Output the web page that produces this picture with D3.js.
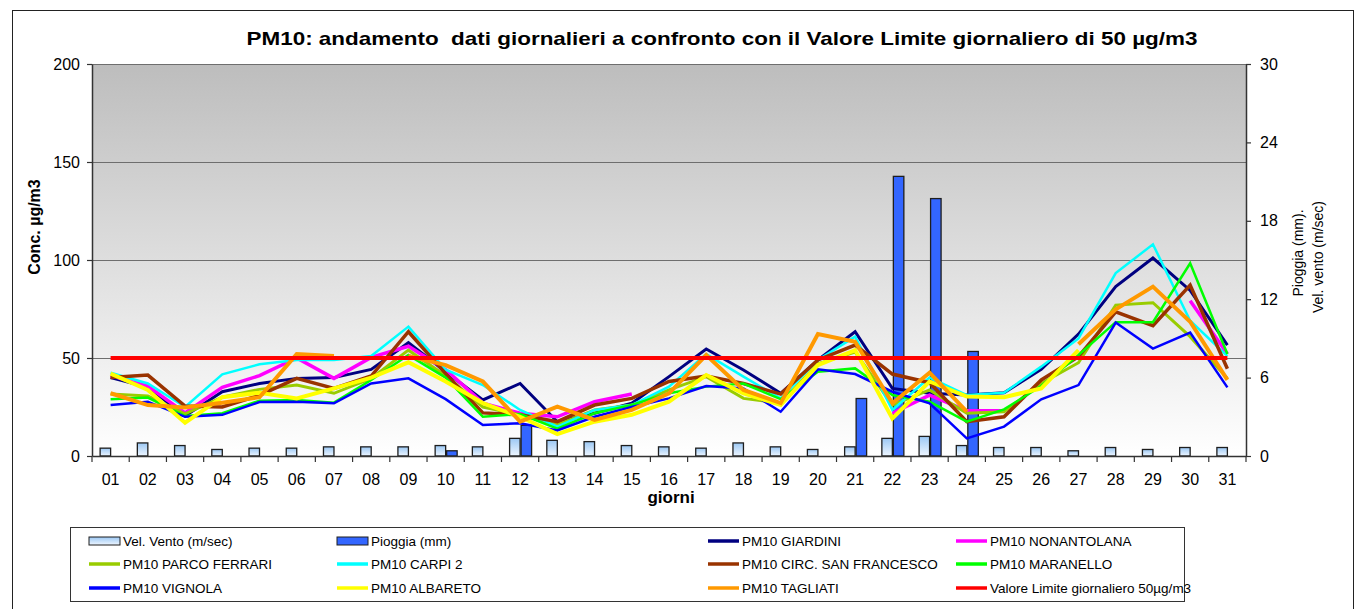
<!DOCTYPE html>
<html>
<head>
<meta charset="utf-8">
<script src="https://cdn.jsdelivr.net/npm/d3@7"></script>
<style>
  body { margin: 0; background: #fff; }
  svg { display: block; font-family: "Liberation Sans", Arial, sans-serif; }
</style>
</head>
<body>
<div id="chart"></div>
<script>
// giorni del mese
const days = ["01","02","03","04","05","06","07","08","09","10","11","12","13","14","15","16",
              "17","18","19","20","21","22","23","24","25","26","27","28","29","30","31"];

// asse destro: vento (m/sec) e pioggia (mm)
const velVento = [0.6,1.0,0.8,0.5,0.6,0.6,0.7,0.7,0.7,0.8,0.7,1.35,1.2,1.1,0.8,0.7,
                  0.6,1.0,0.7,0.5,0.7,1.35,1.5,0.8,0.65,0.65,0.4,0.65,0.5,0.65,0.65];
const pioggia  = [0,0,0,0,0,0,0,0,0,0.4,0,2.35,0,0,0,0,
                  0,0,0,0,4.4,21.4,19.7,8.0,0,0,0,0,0,0,0];

// asse sinistro: PM10 (µg/m3), null = dato mancante
const giardini     = [40,35,20.4,32.8,37,39.6,40,44.2,57.8,43,28.6,37,17.5,21.8,26.9,40.5,
                      54.6,43.9,32,49,63.4,34.5,32,31.1,32.3,44.2,62.2,86.4,101,84.5,56.6];
const nonantolana  = [41,35.7,22,35,41,50,39.6,50.3,56,44,27,21.8,20,27.7,31.6,null,
                      null,null,null,null,null,21.8,31,23.1,23.1,null,null,null,null,79.2,52];
const parcoFerrari = [31.6,30.6,21.5,30,34,36.2,32,39.6,54,41,25,21,16,23.5,26,33.7,
                      40.5,29.4,27,47,53,26,33.7,21.8,22.6,37,47.6,77,78.2,60.9,39.6];
const carpi2       = [42.5,37,25,41.7,46.8,49,49,51,66,44,36.2,23.5,15,23.5,26,35.4,
                      52,40.5,29.4,49,60.9,23.5,40,31.1,32.3,45.6,60,93.3,108,69,51];
const sanFrancesco = [40,41.3,25.5,25,31,39.6,34.5,40.8,63.4,42,22,21,17.5,26,29.4,38,
                      40.8,37,31.6,49,56.6,41.8,37.4,17.5,20,38.8,50.7,73.5,66.5,87.2,44.5];
const maranello    = [29,29.8,20.4,21.8,28.2,28.6,27.2,38.8,51.5,40,20,21.4,14,21.8,26,32,
                      35.4,37,29,43,44.7,31.1,27.7,17.5,23.8,35.7,51.5,68.3,68.3,98.3,52];
const vignola      = [26,27.7,20,21,27.5,27.7,26.9,37,39.6,29,15.8,16.7,13,20,25,29.4,
                      35.7,34.5,22.6,44.2,41.8,32.8,26.9,9,15,28.9,36.2,68.1,54.8,63,35];
const albareto     = [42,33.7,17,30,32.3,29.4,34.5,40,47.8,38,27,20,11.2,17.5,21,27.7,
                      41.3,32,26,46.4,54,19.2,38,30.3,30,34.5,54,null,null,null,null];
const tagliati     = [32,26,24.8,27.2,30,52,51,null,51,46.4,38,17.5,25.2,18.4,23.5,32,
                      51.5,33.7,27,62.2,58.3,26.9,42.5,22.6,null,null,57,74.8,86.4,68.5,38.8];
const valoreLimite = 50;

const leftTicks  = [0, 50, 100, 150, 200];
const rightTicks = [0, 6, 12, 18, 24, 30];

const series = [
  {name: "PM10 GIARDINI",              values: giardini,     color: "#000080", w: 3},
  {name: "PM10 NONANTOLANA",           values: nonantolana,  color: "#ff00ff", w: 3.5},
  {name: "PM10 PARCO FERRARI",         values: parcoFerrari, color: "#99cc00", w: 3},
  {name: "PM10 CARPI 2",               values: carpi2,       color: "#00ffff", w: 2.5},
  {name: "PM10 CIRC. SAN FRANCESCO",   values: sanFrancesco, color: "#993300", w: 3.5},
  {name: "PM10 MARANELLO",             values: maranello,    color: "#00ff00", w: 2.5},
  {name: "PM10 VIGNOLA",               values: vignola,      color: "#0000ff", w: 2.5},
  {name: "PM10 ALBARETO",              values: albareto,     color: "#ffff00", w: 4},
  {name: "PM10 TAGLIATI",              values: tagliati,     color: "#ff9900", w: 4}
];

const W = 1358, H = 609;
const plot = {left: 92, right: 1246, top: 64, bottom: 456};

const svg = d3.select("#chart").append("svg")
  .attr("width", W).attr("height", H);

const defs = svg.append("defs");
let bg = defs.append("linearGradient").attr("id", "bg")
  .attr("x1", 0).attr("y1", 0).attr("x2", 0).attr("y2", 1);
bg.append("stop").attr("offset", "0%").attr("stop-color", "#bdbdbd");
bg.append("stop").attr("offset", "100%").attr("stop-color", "#ffffff");

let wg = defs.append("linearGradient").attr("id", "wind")
  .attr("x1", 0).attr("y1", 0).attr("x2", 0).attr("y2", 1);
wg.append("stop").attr("offset", "0%").attr("stop-color", "#9cc8f4");
wg.append("stop").attr("offset", "100%").attr("stop-color", "#eef6ff");

// cornice esterna
svg.append("rect")
  .attr("x", 12.5).attr("y", 10.5).attr("width", 1341).attr("height", 610)
  .attr("fill", "#fff").attr("stroke", "#222").attr("stroke-width", 1);

// scale
const x = d3.scaleBand().domain(days).range([plot.left, plot.right]).padding(0);
const bw = x.bandwidth();
const yL = d3.scaleLinear().domain([0, 200]).range([plot.bottom, plot.top]);
const yR = d3.scaleLinear().domain([0, 30]).range([plot.bottom, plot.top]);

// sfondo area grafico
svg.append("rect")
  .attr("x", plot.left).attr("y", plot.top)
  .attr("width", plot.right - plot.left).attr("height", plot.bottom - plot.top)
  .attr("fill", "url(#bg)");

// griglia
svg.append("g").selectAll("line")
  .data(leftTicks.filter(d => d > 0))
  .join("line")
  .attr("x1", plot.left).attr("x2", plot.right)
  .attr("y1", d => Math.round(yL(d)) + 0.5).attr("y2", d => Math.round(yL(d)) + 0.5)
  .attr("stroke", "#6e6e6e").attr("stroke-width", 1);

// barre vento
svg.append("g").selectAll("rect")
  .data(velVento)
  .join("rect")
  .attr("x", (d, i) => x(days[i]) + bw / 2 - 10.5)
  .attr("y", d => yR(d))
  .attr("width", 10.5)
  .attr("height", d => plot.bottom - yR(d))
  .attr("fill", "url(#wind)")
  .attr("stroke", "#1e1e1e").attr("stroke-width", 1.3);

// barre pioggia
svg.append("g").selectAll("rect")
  .data(pioggia.map((v, i) => ({v, i})).filter(d => d.v > 0))
  .join("rect")
  .attr("x", d => x(days[d.i]) + bw / 2 + 1)
  .attr("y", d => yR(d.v))
  .attr("width", 10.5)
  .attr("height", d => plot.bottom - yR(d.v))
  .attr("fill", "#3366ff")
  .attr("stroke", "#1e1e1e").attr("stroke-width", 1.3);

// linee PM10
const line = d3.line()
  .defined(v => v != null)
  .x((v, i) => x(days[i]) + bw / 2)
  .y(v => yL(v));

svg.append("g").selectAll("path")
  .data(series)
  .join("path")
  .attr("d", s => line(s.values))
  .attr("fill", "none")
  .attr("stroke", s => s.color)
  .attr("stroke-width", s => s.w)
  .attr("stroke-linejoin", "miter");

// valore limite
svg.append("line")
  .attr("x1", x(days[0]) + bw / 2).attr("x2", x(days[days.length - 1]) + bw / 2)
  .attr("y1", yL(valoreLimite)).attr("y2", yL(valoreLimite))
  .attr("stroke", "#ff0000").attr("stroke-width", 4);

// asse sinistro
const gL = svg.append("g").attr("transform", "translate(" + plot.left + ",0)")
  .call(d3.axisLeft(yL).tickValues(leftTicks).tickSize(5).tickSizeOuter(0).tickPadding(7));
// asse destro
const gR = svg.append("g").attr("transform", "translate(" + plot.right + ",0)")
  .call(d3.axisRight(yR).tickValues(rightTicks).tickSize(5).tickSizeOuter(0).tickPadding(9));
// asse x
const gX = svg.append("g").attr("transform", "translate(0," + plot.bottom + ")")
  .call(d3.axisBottom(x).tickSize(0).tickSizeOuter(0).tickPadding(18));

[gL, gR, gX].forEach(g => {
  g.select(".domain").attr("stroke", "#333").attr("stroke-width", 1.5);
  g.selectAll(".tick line").attr("stroke", "#333").attr("stroke-width", 1.2);
  g.selectAll("text").attr("font-size", 16).attr("fill", "#000")
    .attr("font-family", "Liberation Sans, Arial, sans-serif");
});

// tacche asse x tra le categorie
svg.append("g").selectAll("line")
  .data(days.concat(["end"]))
  .join("line")
  .attr("x1", (d, i) => i < days.length ? x(d) : plot.right)
  .attr("x2", (d, i) => i < days.length ? x(d) : plot.right)
  .attr("y1", plot.bottom).attr("y2", plot.bottom + 6)
  .attr("stroke", "#333").attr("stroke-width", 1.2);

// titoli
svg.append("text")
  .attr("x", 722).attr("y", 45)
  .attr("text-anchor", "middle")
  .attr("font-size", 19).attr("font-weight", "bold")
  .attr("textLength", 951).attr("lengthAdjust", "spacingAndGlyphs")
  .text("PM10: andamento  dati giornalieri a confronto con il Valore Limite giornaliero di 50 µg/m3")
  .style("white-space", "pre");

svg.append("text")
  .attr("x", 671).attr("y", 503)
  .attr("text-anchor", "middle")
  .attr("font-size", 17).attr("font-weight", "bold")
  .text("giorni");

svg.append("text")
  .attr("transform", "translate(40,227) rotate(-90)")
  .attr("text-anchor", "middle")
  .attr("font-size", 16).attr("font-weight", "bold")
  .text("Conc. µg/m3");

svg.append("text")
  .attr("transform", "translate(1303,253) rotate(-90)")
  .attr("text-anchor", "middle")
  .attr("font-size", 14)
  .text("Pioggia (mm).");
svg.append("text")
  .attr("transform", "translate(1323,257) rotate(-90)")
  .attr("text-anchor", "middle")
  .attr("font-size", 14)
  .text("Vel. vento (m/sec)");

// legenda
const legendItems = [
  {name: "Vel. Vento (m/sec)", type: "wind"},
  {name: "Pioggia (mm)", type: "rain"},
  {name: series[0].name, type: "line", color: series[0].color},
  {name: series[1].name, type: "line", color: series[1].color},
  {name: series[2].name, type: "line", color: series[2].color},
  {name: series[3].name, type: "line", color: series[3].color},
  {name: series[4].name, type: "line", color: series[4].color},
  {name: series[5].name, type: "line", color: series[5].color},
  {name: series[6].name, type: "line", color: series[6].color},
  {name: series[7].name, type: "line", color: series[7].color},
  {name: series[8].name, type: "line", color: series[8].color},
  {name: "Valore Limite giornaliero 50µg/m3", type: "line", color: "#ff0000"}
];
const legendCols = [89, 337, 708, 956];
const legendRows = [541, 564, 588];

svg.append("rect")
  .attr("x", 70.5).attr("y", 527.5).attr("width", 1114).attr("height", 74)
  .attr("fill", "#fff").attr("stroke", "#333").attr("stroke-width", 1);

const leg = svg.append("g").selectAll("g")
  .data(legendItems)
  .join("g")
  .attr("transform", (d, i) => "translate(" + legendCols[i % 4] + "," + legendRows[Math.floor(i / 4)] + ")");

leg.filter(d => d.type === "wind").append("rect")
  .attr("x", 0).attr("y", -4).attr("width", 31).attr("height", 8)
  .attr("fill", "url(#wind)").attr("stroke", "#1e1e1e").attr("stroke-width", 1);
leg.filter(d => d.type === "rain").append("rect")
  .attr("x", 0).attr("y", -4).attr("width", 31).attr("height", 8)
  .attr("fill", "#3366ff").attr("stroke", "#1e1e1e").attr("stroke-width", 1);
leg.filter(d => d.type === "line").append("line")
  .attr("x1", 0).attr("x2", 31).attr("y1", 0).attr("y2", 0)
  .attr("stroke", d => d.color).attr("stroke-width", 3.5);

leg.append("text")
  .attr("x", 34).attr("y", 5)
  .attr("font-size", 13.5)
  .text(d => d.name);
</script>
</body>
</html>
